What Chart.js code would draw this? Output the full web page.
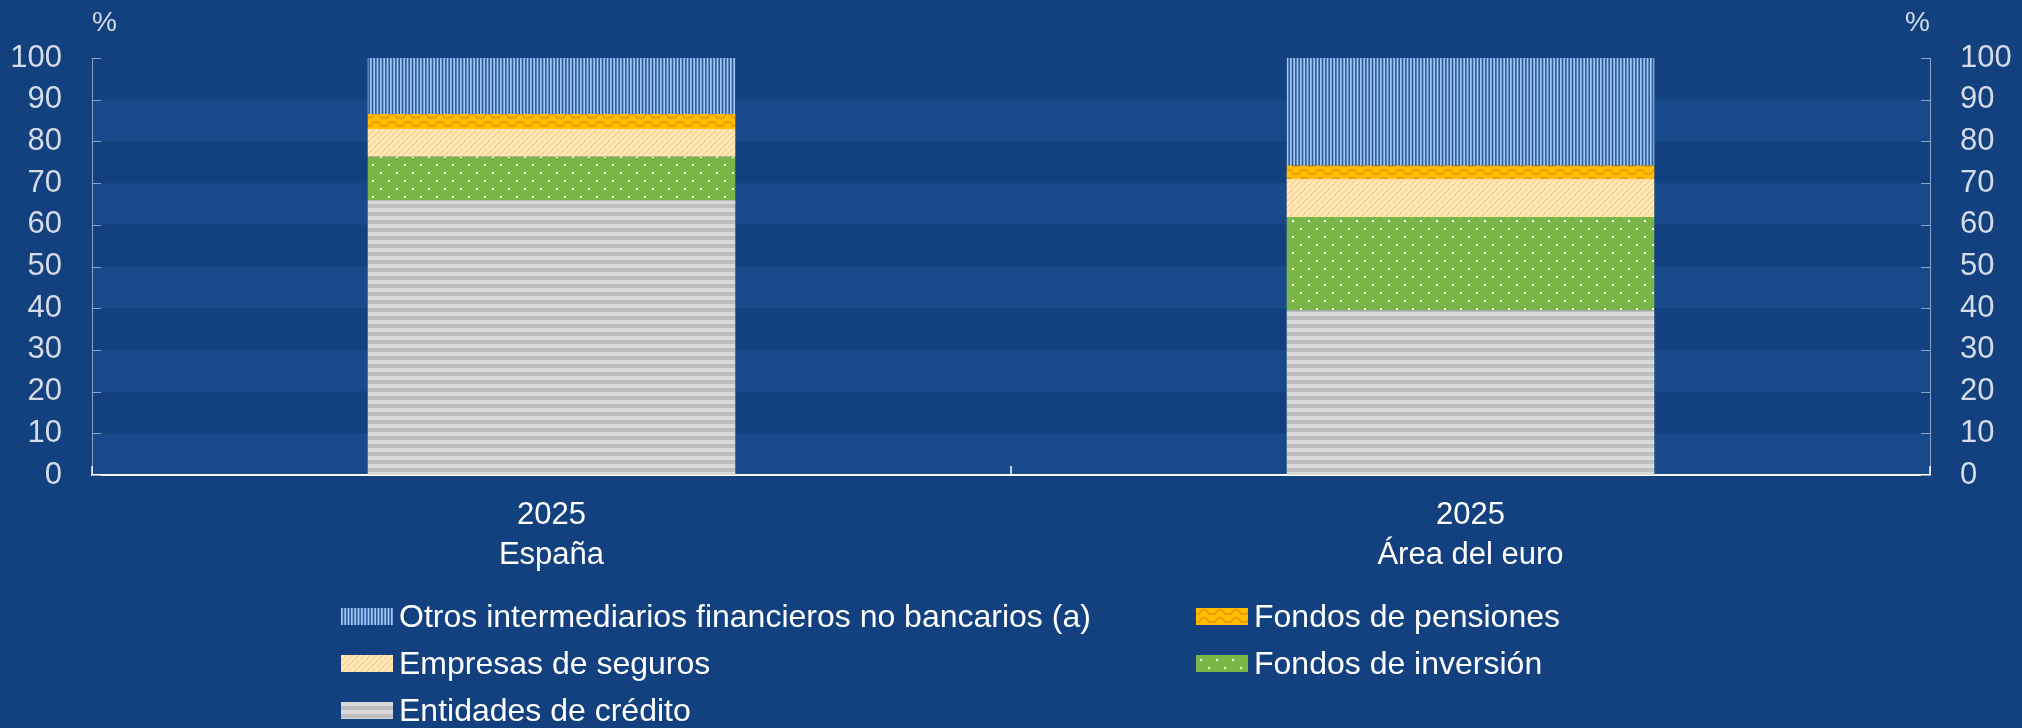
<!DOCTYPE html>
<html><head><meta charset="utf-8">
<script src="https://cdn.jsdelivr.net/npm/chart.js@4.4.1/dist/chart.umd.min.js"></script>
<style>
html,body{margin:0;padding:0;background:#134180;}
#wrap{position:relative;width:2022px;height:728px;overflow:hidden;background:#134180;}
#c{position:absolute;left:0;top:0;}
.li{position:absolute;display:flex;align-items:center;color:#ffffff;font-family:"Liberation Sans",Arial,sans-serif;font-size:32px;white-space:nowrap;height:40px;}
.li canvas{margin-right:6px;display:block;}
</style></head><body>
<div id="wrap"><canvas id="c" width="2022" height="728"></canvas><div id="legend"></div></div>
<script>
// ---- data ----
const categories = [["2025", "España"], ["2025", "Área del euro"]];
const seriesNames = ["Entidades de crédito", "Fondos de inversión", "Empresas de seguros", "Fondos de pensiones", "Otros intermediarios financieros no bancarios (a)"];
const entidades = [65.9, 39.5];
const inversion = [10.4, 22.4];
const seguros = [6.7, 9.1];
const pensiones = [3.6, 3.2];
const otros = [13.4, 25.8];
const yTicks = [0, 10, 20, 30, 40, 50, 60, 70, 80, 90, 100];
const legendOrder = [4, 3, 2, 1, 0];

// ---- pattern tiles ----
function tile(kind) {
  const t = document.createElement('canvas');
  const g = t.getContext('2d');
  if (kind === 'otros') {
    t.width = 10; t.height = 4;
    g.fillStyle = '#2a5ba0'; g.fillRect(0, 0, 10, 4);
    g.fillStyle = '#a3c7ee';
    for (let i = 0; i < 3; i++) g.fillRect(i * 10 / 3, 0, 1.7, 4);
  } else if (kind === 'pensiones') {
    t.width = 16; t.height = 8;
    g.fillStyle = '#ffbf00'; g.fillRect(0, 0, 16, 8);
    g.strokeStyle = '#f29200'; g.lineWidth = 1.6;
    g.beginPath();
    g.moveTo(-1, 6); g.lineTo(3, 6); g.lineTo(6, 2); g.lineTo(10, 2); g.lineTo(13, 6); g.lineTo(17, 6);
    g.stroke();
  } else if (kind === 'seguros') {
    t.width = 6; t.height = 6;
    g.fillStyle = '#ffedca'; g.fillRect(0, 0, 6, 6);
    g.strokeStyle = '#ffd68e'; g.lineWidth = 2.2;
    g.beginPath();
    g.moveTo(-1, 7); g.lineTo(7, -1);
    g.moveTo(-4, 4); g.lineTo(4, -4);
    g.moveTo(2, 10); g.lineTo(10, 2);
    g.stroke();
  } else if (kind === 'inversion') {
    t.width = 16; t.height = 16;
    g.fillStyle = '#7ab548'; g.fillRect(0, 0, 16, 16);
    g.fillStyle = '#ffffff';
    g.fillRect(4, 4, 2, 2); g.fillRect(12, 12, 2, 2);
  } else {
    t.width = 4; t.height = 8;
    g.fillStyle = '#d9d9d9'; g.fillRect(0, 0, 4, 4);
    g.fillStyle = '#bebebe'; g.fillRect(0, 4, 4, 4);
  }
  return t;
}
const tileKinds = ['entidades', 'inversion', 'seguros', 'pensiones', 'otros'];
const tiles = tileKinds.map(tile);
const seriesValues = [entidades, inversion, seguros, pensiones, otros];

const canvas = document.getElementById('c');
const ctx = canvas.getContext('2d');
const FONT = '"Liberation Sans", Arial, sans-serif';
const BG = '#134180';
const BAND = '#17498b';
const AXIS = '#8ea3c3';
const TICKTXT = '#d5dce7';

const bgPlugin = {
  id: 'bands',
  beforeDraw(chart) {
    const c = chart.ctx, a = chart.chartArea, ys = chart.scales.y;
    c.save();
    c.fillStyle = BG; c.fillRect(0, 0, chart.width, chart.height);
    c.fillStyle = BAND;
    for (let i = 0; i < yTicks.length - 1; i += 2) {
      const y0 = ys.getPixelForValue(yTicks[i]);
      const y1 = ys.getPixelForValue(yTicks[i + 1]);
      c.fillRect(a.left, y1, a.right - a.left, y0 - y1);
    }
    c.restore();
  },
  afterDraw(chart) {
    const c = chart.ctx, a = chart.chartArea, ys = chart.scales.y, xs = chart.scales.x;
    c.save();
    c.strokeStyle = AXIS; c.lineWidth = 1;
    yTicks.forEach(v => {
      const y = Math.round(ys.getPixelForValue(v)) + 0.5;
      c.beginPath(); c.moveTo(a.left, y); c.lineTo(a.left + 9, y); c.stroke();
      c.beginPath(); c.moveTo(a.right, y); c.lineTo(a.right - 9, y); c.stroke();
    });
    c.strokeStyle = '#ffffff'; c.lineWidth = 1.5;
    for (let i = 0; i <= categories.length; i++) {
      const x = Math.round(xs.getPixelForValue(i - 0.5));
      c.beginPath(); c.moveTo(x, a.bottom); c.lineTo(x, a.bottom - 9); c.stroke();
    }
    c.fillStyle = TICKTXT; c.font = '28px ' + FONT; c.textBaseline = 'middle';
    c.textAlign = 'left'; c.fillText('%', a.left, a.top - 35);
    c.textAlign = 'right'; c.fillText('%', a.right, a.top - 35);
    c.restore();
  }
};

const datasets = seriesNames.map((name, i) => ({
  label: name,
  data: seriesValues[i],
  backgroundColor: ctx.createPattern(tiles[i], 'repeat'),
  borderWidth: 0,
  categoryPercentage: 1,
  barPercentage: 0.4,
  yAxisID: 'y'
}));

const yAxisCommon = (pos) => ({
  position: pos,
  min: 0, max: 100,
  stacked: pos === 'left',
  afterBuildTicks(s) { s.ticks = yTicks.map(v => ({ value: v })); },
  afterFit(s) { s.width = 92; },
  grid: { display: false, drawTicks: false },
  border: { display: true, color: AXIS, width: 1 },
  ticks: { color: TICKTXT, font: { family: FONT, size: 31 }, padding: 30 }
});

new Chart(ctx, {
  type: 'bar',
  data: { labels: categories, datasets },
  options: {
    responsive: false,
    animation: false,
    devicePixelRatio: 1,
    layout: { padding: { top: 58, left: 0, right: 0, bottom: 0 } },
    plugins: { legend: { display: false }, tooltip: { enabled: false } },
    scales: {
      x: {
        stacked: true, offset: true,
        grid: { display: false, drawTicks: false },
        border: { display: true, color: '#ffffff', width: 2 },
        ticks: { color: '#ffffff', font: { family: FONT, size: 31, lineHeight: 1.3 }, padding: 20, maxRotation: 0, autoSkip: false },
        afterFit(s) { s.height = 253; }
      },
      y: yAxisCommon('left'),
      y2: yAxisCommon('right')
    }
  },
  plugins: [bgPlugin]
});

// ---- HTML legend ----
const leg = document.getElementById('legend');
const colLeft = [341, 1196];
legendOrder.forEach((si, k) => {
  const col = k % 2, row = Math.floor(k / 2);
  const d = document.createElement('div');
  d.className = 'li';
  d.style.left = colLeft[col] + 'px';
  d.style.top = (596 + row * 47) + 'px';
  const sw = document.createElement('canvas');
  sw.width = 52; sw.height = 17;
  const g = sw.getContext('2d');
  g.fillStyle = g.createPattern(tiles[si], 'repeat');
  g.fillRect(0, 0, 52, 17);
  d.appendChild(sw);
  const s = document.createElement('span');
  s.textContent = seriesNames[si];
  d.appendChild(s);
  leg.appendChild(d);
});
</script>
</body></html>
